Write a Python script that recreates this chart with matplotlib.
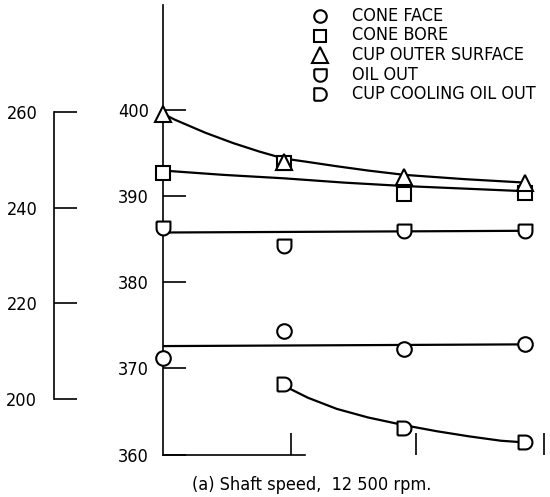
import matplotlib
matplotlib.use('Agg')
import matplotlib.pyplot as plt
from matplotlib.path import Path
import numpy as np

plt.rcParams['font.family'] = ['DejaVu Sans']
plt.rcParams['font.stretch'] = 'condensed'

# run positions (arbitrary units)
x_pts = [0, 1.0, 2.0, 3.0]
x_cool = [1.0, 2.0, 3.0]

# temperatures, K
cone_face = [371.2, 374.4, 372.3, 372.8]
cone_bore = [392.7, 393.9, 390.3, 390.4]
cup_outer = [399.6, 394.0, 392.3, 391.5]
oil_out = [386.3, 384.2, 386.0, 386.0]
cup_cool = [368.2, 363.1, 361.4]

# faired curves
fair_outer_x = [0, 0.1, 0.2, 0.35, 0.58, 0.8, 1.0, 1.2, 1.44, 1.7, 2.0, 2.5, 3.0]
fair_outer_y = [399.6, 398.9, 398.3, 397.4, 396.2, 395.2, 394.4, 394.0, 393.5, 393.0,
                392.5, 392.0, 391.6]
fair_bore_x = [0, 0.5, 1.0, 1.5, 2.0, 2.5, 3.0]
fair_bore_y = [393.0, 392.5, 392.1, 391.6, 391.2, 390.9, 390.6]
fair_oil_x = [0, 3.0]
fair_oil_y = [385.8, 386.0]
fair_face_x = [0, 3.0]
fair_face_y = [372.6, 372.8]
fair_cool_x = [1.0, 1.2, 1.44, 1.7, 2.0, 2.27, 2.54, 2.8, 3.0]
fair_cool_y = [368.0, 366.6, 365.3, 364.3, 363.4, 362.7, 362.1, 361.6, 361.4]

k_ticks = [360, 370, 380, 390, 400]
f_ticks = [200, 220, 240, 260]
x_ticks = [1.06, 2.1, 3.16]

labels = ['CONE FACE', 'CONE BORE', 'CUP OUTER SURFACE', 'OIL OUT', 'CUP COOLING OIL OUT']

# custom markers: cup (flat top, round bottom) and "D" (flat left, round right)
t = np.linspace(0, np.pi, 20)
cup_verts = [(-1, 1), (1, 1), (1, 0)] + [(np.cos(a), -np.sin(a)) for a in t] + [(-1, 1)]
cup_marker = Path(cup_verts)
t2 = np.linspace(-np.pi / 2, np.pi / 2, 20)
d_verts = [(-1, -1), (-1, 1), (0, 1)] + [(np.cos(a), np.sin(a)) for a in t2[::-1]] + [(-1, -1)]
d_marker = Path(d_verts)

W, H = 550, 497
fig = plt.figure(figsize=(5.5, 4.97), dpi=100)

ppu = 120.7
ax = fig.add_axes([163 / W, (H - 454.5) / H, (W - 163) / W, 450 / H])
ax.set_xlim(0, (W - 163) / ppu)
ax.set_ylim(360, 412.3)

kw = dict(color='black', lw=1.6)
ax.plot(fair_outer_x, fair_outer_y, **kw)
ax.plot(fair_bore_x, fair_bore_y, **kw)
ax.plot(fair_oil_x, fair_oil_y, **kw)
ax.plot(fair_face_x, fair_face_y, **kw)
ax.plot(fair_cool_x, fair_cool_y, **kw)

mk = dict(ls='none', mfc='white', mec='black', mew=1.5, clip_on=False, zorder=3)
ax.plot(x_pts, cone_face, marker='o', ms=10.5, **mk)
ax.plot(x_pts, cone_bore, marker='s', ms=10, **mk)
ax.plot(x_pts, cup_outer, marker='^', ms=12, **mk)
ax.plot(x_pts, oil_out, marker=cup_marker, ms=10, **mk)
ax.plot(x_cool, cup_cool, marker=d_marker, ms=10, **mk)

for s in ['top', 'right']:
    ax.spines[s].set_visible(False)
ax.spines['bottom'].set_bounds(0, (305 - 163) / ppu)
for s in ['left', 'bottom']:
    ax.spines[s].set_linewidth(1.2)

ax.set_yticks(k_ticks)
ax.tick_params(axis='y', direction='in', length=16.5, width=1.2, pad=10, labelsize=13)
ax.set_xticks(x_ticks)
ax.set_xticklabels([])
ax.tick_params(axis='x', direction='in', length=16, width=1.2)

# legend
leg_y = [16, 35.5, 55, 74.5, 94]
leg_markers = ['o', 's', '^', cup_marker, d_marker]
leg_ms = [9, 9, 11, 9, 9]
for yy, m, ms, lab in zip(leg_y, leg_markers, leg_ms, labels):
    fy = (H - yy) / H
    fig.lines.append(plt.Line2D([320 / W], [fy], transform=fig.transFigure, marker=m,
                                ls='none', mfc='white', mec='black', mew=1.5, ms=ms))
    fig.text(352 / W, fy, lab, fontsize=13, va='center', ha='left')

# secondary scale, deg F
ax2 = fig.add_axes([54 / W, (H - 454.5) / H, 0.05, 450 / H])
ax2.set_ylim(360 * 1.8 - 459.67, 412.3 * 1.8 - 459.67)
ax2.patch.set_visible(False)
for s in ['top', 'right', 'bottom']:
    ax2.spines[s].set_visible(False)
ax2.spines['left'].set_bounds(200, 260)
ax2.spines['left'].set_linewidth(1.2)
ax2.set_xticks([])
ax2.set_yticks(f_ticks)
ax2.tick_params(axis='y', direction='in', length=16.5, width=1.2, pad=12, labelsize=13)

fig.text(312 / W, (H - 485) / H, '(a) Shaft speed,  12 500 rpm.', fontsize=13,
         ha='center', va='center')

fig.savefig('out.png', dpi=100)
